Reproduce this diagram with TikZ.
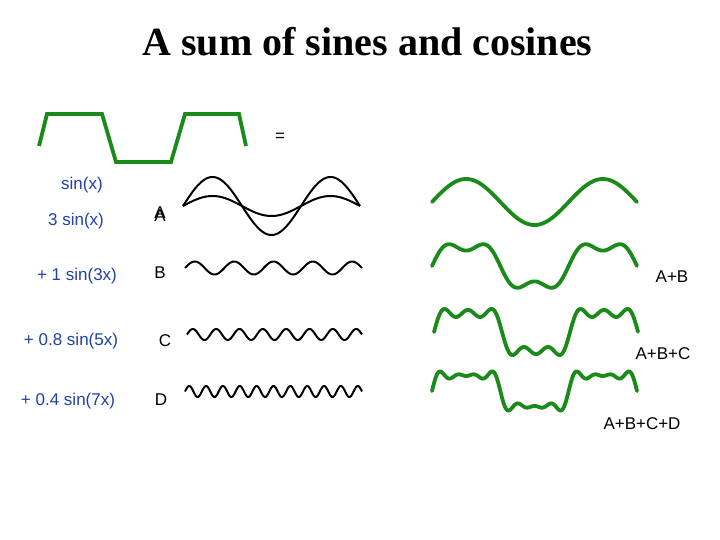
\documentclass[tikz,border=0pt]{standalone}
\usepackage{fontspec}
\setmainfont{Liberation Serif}
\setsansfont{Liberation Sans}
\definecolor{wavegreen}{RGB}{26,138,26}
\definecolor{lblblue}{RGB}{34,64,170}
\begin{document}
\begin{tikzpicture}[x=1pt,y=-1pt,
  lbl/.style={font=\sffamily\fontsize{17}{17}\selectfont, inner sep=0pt},
  bluelbl/.style={lbl, text=lblblue},
  blackwave/.style={black, line width=2pt, line join=round},
  greenwave/.style={wavegreen, line width=3.8pt, line join=round, line cap=round},
  sq/.style={wavegreen, line width=3.8pt, line join=miter}]
\useasboundingbox (0,0) rectangle (720,540);
\fill[white] (0,0) rectangle (720,540);
% title
\node[font=\bfseries\fontsize{40}{40}\selectfont, inner sep=0pt] (title) at (367.5,42) {A sum of sines and cosines};
% square wave
\draw[sq] (39,146) -- (47,114) -- (102,114) -- (116,162) -- (171,162) -- (185,114) -- (239,114) -- (246,146);
\node[lbl] (eq) at (280,137) {=};
% left labels
\node[bluelbl] (l1) at (82,185) {sin(x)};
\node[bluelbl] (l2) at (76,221) {3 sin(x)};
\node[bluelbl] (l3) at (77,276) {+ 1 sin(3x)};
\node[bluelbl] (l4) at (71,341) {+ 0.8 sin(5x)};
\node[bluelbl] (l5) at (68,401) {+ 0.4 sin(7x)};
% letters
\node[lbl] (la) at (160,214) {\rlap{\raisebox{2.5pt}{A}}A};
\node[lbl] (lb) at (160,273) {B};
\node[lbl] (lc) at (165,341) {C};
\node[lbl] (ld) at (161,400) {D};
% black component waves
\draw[blackwave] plot[domain=0:3*pi, samples=200, smooth] ({183+18.78*\x}, {206-29*sin(\x r)});
\draw[blackwave] plot[domain=0:3*pi, samples=200, smooth] ({183+18.78*\x}, {206-10*sin(\x r)});
\draw[blackwave] plot[domain=0:3*pi, samples=240, smooth] ({185+18.78*\x}, {268-6.5*sin(3*\x r)});
\draw[blackwave] plot[domain=0:3*pi, samples=300, smooth] ({187+18.57*\x}, {334.5-5.5*sin(5*\x r)});
\draw[blackwave] plot[domain=0:3*pi, samples=400, smooth] ({185+18.78*\x}, {391.5-5.5*sin(7*\x r)});
% green sums
\draw[greenwave] plot[domain=0:3*pi, samples=200, smooth] ({432+21.75*\x}, {202-7.67*3*sin(\x r)});
\draw[greenwave] plot[domain=0:3*pi, samples=240, smooth] ({432+21.75*\x}, {266-7.7*(3*sin(\x r)+sin(3*\x r))});
\draw[greenwave] plot[domain=0:3*pi, samples=300, smooth] ({434+21.65*\x}, {332-7.9*(3*sin(\x r)+sin(3*\x r)+0.8*sin(5*\x r))});
\draw[greenwave] plot[domain=0:3*pi, samples=400, smooth] ({432+21.75*\x}, {391-6.5*(3*sin(\x r)+sin(3*\x r)+0.8*sin(5*\x r)+0.5*sin(7*\x r))});
% right labels
\node[lbl] (rab) at (672,277) {A+B};
\node[lbl] (rabc) at (663,354) {A+B+C};
\node[lbl] (rabcd) at (642,424) {A+B+C+D};
\end{tikzpicture}
\end{document}
